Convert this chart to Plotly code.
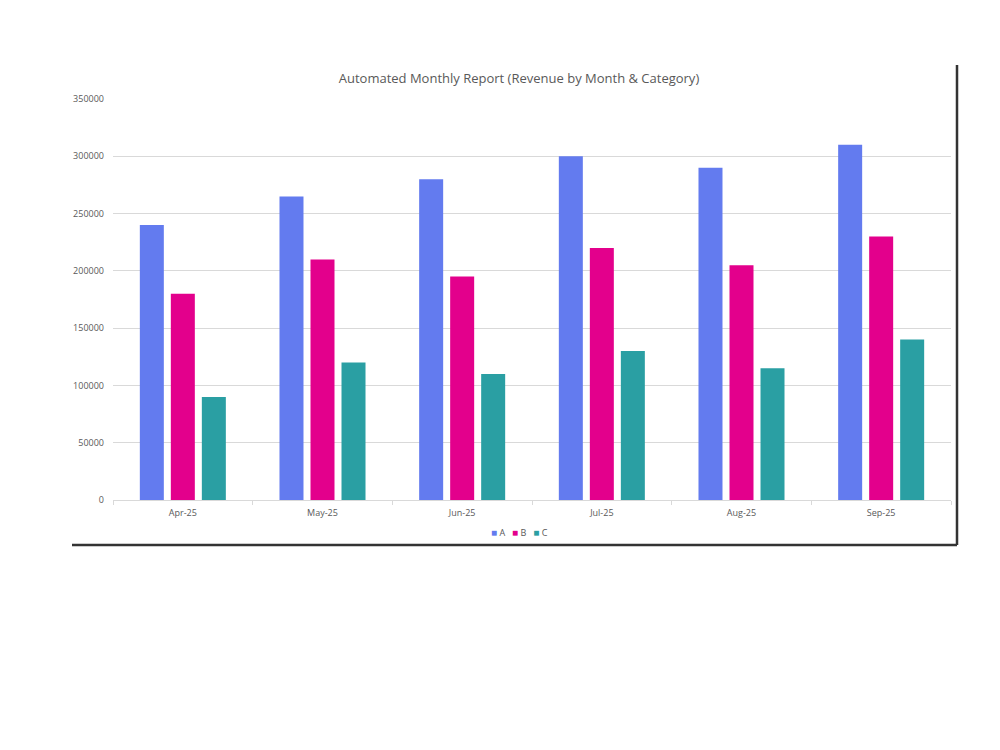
import plotly.graph_objects as go

months = ["Apr-25", "May-25", "Jun-25", "Jul-25", "Aug-25", "Sep-25"]
series_a = [240000, 265000, 280000, 300000, 290000, 310000]
series_b = [180000, 210000, 195000, 220000, 205000, 230000]
series_c = [90000, 120000, 110000, 130000, 115000, 140000]
y_ticks = [0, 50000, 100000, 150000, 200000, 250000, 300000, 350000]

colors = {"A": "#637BEF", "B": "#E3008C", "C": "#2A9FA3"}
series = [("A", series_a), ("B", series_b), ("C", series_c)]

fig = go.Figure()
for name, vals in series:
    fig.add_trace(go.Bar(x=months, y=vals, name=name, marker_color=colors[name],
                         marker_line_width=0, showlegend=False))

font_family = "Open Sans, Noto Sans, sans-serif"
fig.update_layout(
    width=1000, height=750,
    paper_bgcolor="white", plot_bgcolor="white",
    margin=dict(l=113, r=49, t=99, b=250),
    barmode="group", bargap=0.334, bargroupgap=0.226,
    title=dict(text="Automated Monthly Report (Revenue by Month & Category)",
               x=0.519, xanchor="center", y=1 - 78 / 750, yanchor="middle",
               font=dict(family=font_family, size=13, color="#595959")),
    font=dict(family=font_family, size=9, color="#595959"),
    showlegend=False,
    xaxis=dict(showgrid=False, showline=True, linecolor="#D9D9D9", linewidth=1,
               ticks="outside", tickson="boundaries", ticklen=4, tickcolor="#D9D9D9",
               ticklabelstandoff=4,
               tickfont=dict(size=9, color="#595959")),
    yaxis=dict(range=[0, 350000], tickvals=y_ticks, ticktext=[str(v) for v in y_ticks],
               showgrid=True, gridcolor="#D9D9D9", gridwidth=1, zeroline=False,
               showline=False, ticks="", ticklabelstandoff=8,
               tickfont=dict(size=9, color="#595959")),
)

# compact legend (as in the reference) built from the series names/colours
legend_text = "   ".join(
    f"<span style='color:{colors[name]};font-size:10px'>■</span> {name}" for name, _ in series)
fig.add_annotation(text=legend_text, xref="paper", yref="paper",
                   x=(519 - 113) / 838, y=(500 - 532) / 401, xanchor="center", yanchor="middle",
                   showarrow=False, font=dict(family=font_family, size=9, color="#595959"))

# frame shadow lines (right and bottom edges of the pasted chart)
fig.add_shape(type="line", xref="paper", yref="paper",
              x0=(957 - 113) / 838, x1=(957 - 113) / 838,
              y0=(500 - 545) / 401, y1=(500 - 65) / 401,
              line=dict(color="#333333", width=2.5))
fig.add_shape(type="line", xref="paper", yref="paper",
              x0=(72 - 113) / 838, x1=(957 - 113) / 838,
              y0=(500 - 545) / 401, y1=(500 - 545) / 401,
              line=dict(color="#333333", width=2.5))

fig.write_html("out.html")
